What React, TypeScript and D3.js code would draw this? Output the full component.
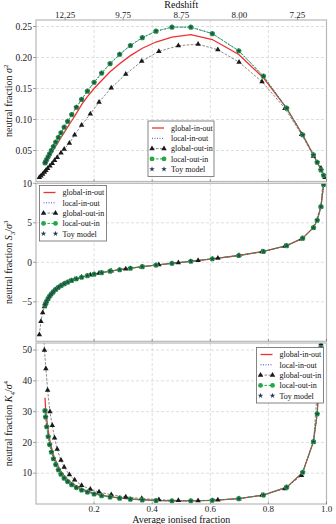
import React from 'react';
import * as d3 from 'd3';

// ---------- data ----------
const xLocal = [0.031, 0.033, 0.037, 0.042, 0.047, 0.053, 0.06, 0.068, 0.077, 0.086, 0.097, 0.109, 0.123, 0.139, 0.157, 0.177, 0.2, 0.226, 0.255, 0.288, 0.325, 0.366, 0.413, 0.468, 0.533, 0.607, 0.698, 0.783, 0.863, 0.918, 0.955, 0.968, 0.981, 0.99];
const sigmaLocal = [0.030, 0.0319, 0.0356, 0.0402, 0.0448, 0.0502, 0.0564, 0.0634, 0.0711, 0.0786, 0.0876, 0.0971, 0.1079, 0.1197, 0.1324, 0.1457, 0.16, 0.1749, 0.19, 0.2051, 0.2194, 0.232, 0.2424, 0.249, 0.2489, 0.2385, 0.2108, 0.1699, 0.1182, 0.0753, 0.043, 0.031, 0.0186, 0.0099];
const s3Local = [-5.41, -5.23, -4.91, -4.57, -4.28, -3.99, -3.71, -3.43, -3.17, -2.95, -2.72, -2.51, -2.3, -2.09, -1.89, -1.69, -1.5, -1.31, -1.12, -0.94, -0.75, -0.56, -0.35, -0.13, 0.13, 0.44, 0.86, 1.37, 2.11, 3.05, 4.39, 5.32, 7.05, 9.85];
const k4Local = [30.3, 28.3, 25.1, 21.9, 19.3, 16.9, 14.7, 12.8, 11.1, 9.7, 8.4, 7.3, 6.27, 5.35, 4.55, 3.86, 3.25, 2.72, 2.26, 1.88, 1.56, 1.31, 1.13, 1.02, 1.02, 1.19, 1.74, 2.89, 5.46, 10.28, 20.26, 29.3, 50.8, 98];

const sigmaGlobalInOut = [0.027, 0.029, 0.032, 0.036, 0.04, 0.045, 0.051, 0.057, 0.064, 0.071, 0.079, 0.088, 0.098, 0.11, 0.124, 0.137, 0.15, 0.163, 0.177, 0.19, 0.203, 0.215, 0.225, 0.233, 0.237, 0.229, 0.205, 0.167, 0.118, 0.075, 0.043, 0.031, 0.0186, 0.0099];
const k4GlobalInOut = [34.5, 31, 27.5, 24, 21, 18.5, 16, 14, 12.2, 10.6, 9.2, 7.9, 6.8, 5.8, 4.9, 4.2, 3.5, 2.9, 2.4, 2.0, 1.65, 1.38, 1.16, 1.04, 1.03, 1.2, 1.75, 2.9, 5.46, 10.28, 20.26, 29.3, 50.8, 98];

const xGlobalOutIn = [0.0115, 0.017, 0.023, 0.029, 0.034, 0.04, 0.048, 0.056, 0.064, 0.073, 0.086, 0.097, 0.115, 0.133, 0.157, 0.187, 0.217, 0.259, 0.309, 0.364, 0.423, 0.49, 0.558, 0.626, 0.699, 0.778, 0.857, 0.914, 0.955, 0.981, 0.995];
const sigmaGlobalOutIn = [0.0065, 0.009, 0.012, 0.015, 0.018, 0.021, 0.025, 0.029, 0.034, 0.039, 0.046, 0.052, 0.062, 0.075, 0.091, 0.109, 0.128, 0.151, 0.173, 0.194, 0.21, 0.219, 0.2215, 0.2125, 0.1925, 0.161, 0.118, 0.076, 0.041, 0.0215, 0.0065];
const s3GlobalOutIn = [-9.16, -7.47, -6.36, -5.61, -5.14, -4.69, -4.23, -3.86, -3.56, -3.28, -2.95, -2.72, -2.41, -2.16, -1.89, -1.6, -1.37, -1.1, -0.83, -0.57, -0.31, -0.04, 0.23, 0.52, 0.87, 1.34, 2.04, 2.95, 4.39, 7.05, 14.0];
const k4GlobalOutIn = [150, 100, 70, 50, 44, 37, 30, 25.5, 21.5, 17.8, 14.2, 12, 9.5, 7.8, 6.0, 4.8, 3.9, 3.0, 2.3, 1.8, 1.4, 1.15, 1.1, 1.3, 1.75, 2.9, 5.0, 9.3, 20.2, 52, 200];

const redshiftPos = [0.1, 0.3, 0.5, 0.7, 0.9];
const redshiftLabels = ['12.25', '9.75', '8.75', '8.00', '7.25'];
const xTicks = [0.2, 0.4, 0.6, 0.8, 1.0];
const yTicks1 = [0.05, 0.1, 0.15, 0.2, 0.25];
const yTicks2 = [-5, 0, 5, 10];
const yTicks3 = [10, 20, 30, 40, 50];

const seriesNames = ['global-in-out', 'local-in-out', 'global-out-in', 'local-out-in', 'Toy model'];

// ---------- styles ----------
const RED = '#f03030';
const BLUE = '#3a4fd0';
const BLACK = '#1a1a1a';
const GREEN = '#22a846';
const STAR = '#2b3a52';
const FONT = '"Liberation Serif", "DejaVu Serif", serif';

const L = 36, R = 326.5;
const x = d3.scaleLinear().domain([0, 1]).range([L, R]);

const starPath = d3.symbol().type(d3.symbolStar).size(10)()!;
const triPath = d3.symbol().type(d3.symbolTriangle).size(13)()!;

type Panel = {
  id: string; top: number; bottom: number; domain: [number, number]; ticks: number[];
  fmt: (v: number) => string; sig: number[]; red: number[]; black: number[];
  label: React.ReactNode; legend: { x: number; y: number; w: number };
};

function Legend({ lx, ly, w }: { lx: number; ly: number; w: number }) {
  const rowH = 10.3;
  const h = rowH * 5 + 4;
  const hx0 = lx + 4, hx1 = lx + 16, tx = lx + 23;
  return (
    <g>
      <rect x={lx} y={ly} width={w} height={h} fill="white" stroke="#666" strokeWidth={0.8} />
      {seriesNames.map((n, i) => {
        const cy = ly + 7 + i * rowH;
        let handle: React.ReactNode = null;
        if (i === 0) handle = <line x1={hx0} x2={hx1} y1={cy} y2={cy} stroke={RED} strokeWidth={1.3} />;
        if (i === 1) handle = <line x1={hx0} x2={hx1} y1={cy} y2={cy} stroke={BLUE} strokeWidth={1} strokeDasharray="1,1.5" />;
        if (i === 2) handle = (<g>
          <line x1={hx0} x2={hx1} y1={cy} y2={cy} stroke="#555" strokeWidth={0.7} strokeDasharray="2.5,1.5" />
          <path d={triPath} transform={`translate(${hx0},${cy})`} fill={BLACK} />
          <path d={triPath} transform={`translate(${hx1},${cy})`} fill={BLACK} />
        </g>);
        if (i === 3) handle = (<g>
          <line x1={hx0} x2={hx1} y1={cy} y2={cy} stroke={GREEN} strokeWidth={1} strokeDasharray="2.5,1.5" />
          <circle cx={hx0} cy={cy} r={2.4} fill={GREEN} />
          <circle cx={hx1} cy={cy} r={2.4} fill={GREEN} />
        </g>);
        if (i === 4) handle = (<g>
          <path d={starPath} transform={`translate(${hx0},${cy})`} fill={STAR} />
          <path d={starPath} transform={`translate(${hx1},${cy})`} fill={STAR} />
        </g>);
        return (<g key={n}>
          {handle}
          <text x={tx} y={cy + 2.8} fontSize={8} fontFamily={FONT} fill="#111">{n}</text>
        </g>);
      })}
    </g>
  );
}

function PanelView({ p }: { p: Panel }) {
  const y = d3.scaleLinear().domain(p.domain).range([p.bottom, p.top]);
  const line = (xs: number[], ys: number[]) =>
    d3.line<number>().x((_, i) => x(xs[i])).y((v) => y(v))(ys) || '';
  const clipId = `clip-${p.id}`;
  const midY = (p.top + p.bottom) / 2;
  return (
    <g>
      <defs>
        <clipPath id={clipId}><rect x={L} y={p.top} width={R - L} height={p.bottom - p.top} /></clipPath>
      </defs>
      {xTicks.filter((t) => t < 1).map((t) => (
        <line key={'gx' + t} x1={x(t)} x2={x(t)} y1={p.top} y2={p.bottom} stroke="#c8c8c8" strokeWidth={0.6} strokeDasharray="3,2" />
      ))}
      {p.ticks.map((t) => (
        <line key={'gy' + t} x1={L} x2={R} y1={y(t)} y2={y(t)} stroke="#c8c8c8" strokeWidth={0.6} strokeDasharray="3,2" />
      ))}
      <g clipPath={`url(#${clipId})`}>
        <path d={line(xGlobalOutIn, p.black)} fill="none" stroke="#555" strokeWidth={0.7} strokeDasharray="2.5,1.5" />
        <path d={line(xLocal, p.red)} fill="none" stroke={RED} strokeWidth={1.3} />
        <path d={line(xLocal, p.sig)} fill="none" stroke={BLUE} strokeWidth={1} strokeDasharray="1,1.5" />
        <path d={line(xLocal, p.sig)} fill="none" stroke={GREEN} strokeWidth={1} strokeDasharray="2.5,1.5" />
        {xGlobalOutIn.map((xv, i) => (
          <path key={'t' + i} d={triPath} transform={`translate(${x(xv)},${y(p.black[i])})`} fill={BLACK} />
        ))}
        {xLocal.map((xv, i) => (
          <circle key={'c' + i} cx={x(xv)} cy={y(p.sig[i])} r={2.6} fill={GREEN} />
        ))}
        {xLocal.map((xv, i) => (
          <path key={'s' + i} d={starPath} transform={`translate(${x(xv)},${y(p.sig[i])})`} fill={STAR} fillOpacity={0.85} />
        ))}
      </g>
      <rect x={L} y={p.top} width={R - L} height={p.bottom - p.top} fill="none" stroke="#b8b8b8" strokeWidth={1.2} />
      {p.ticks.map((t) => (
        <g key={'yt' + t}>
          <line x1={L - 3} x2={L} y1={y(t)} y2={y(t)} stroke="#666" strokeWidth={0.6} />
          <text x={L - 4} y={y(t) + 3.2} textAnchor="end" fontSize={9.5} fontFamily={FONT} fill="#222">{p.fmt(t)}</text>
        </g>
      ))}
      {xTicks.map((t) => (
        <line key={'xt' + t} x1={x(t)} x2={x(t)} y1={p.bottom} y2={p.bottom - 2.5} stroke="#666" strokeWidth={0.6} />
      ))}
      <text transform={`translate(12,${midY}) rotate(-90)`} textAnchor="middle" fontSize={10} fontFamily={FONT} fill="#111">{p.label}</text>
      <Legend lx={p.legend.x} ly={p.legend.y} w={p.legend.w} />
    </g>
  );
}

export default function App() {
  const panels: Panel[] = [
    {
      id: 'p1', top: 20, bottom: 181.5, domain: [0, 0.2605], ticks: yTicks1, fmt: (v) => v.toFixed(2),
      sig: sigmaLocal, red: sigmaGlobalInOut, black: sigmaGlobalOutIn,
      label: (<>neutral fraction <tspan fontStyle="italic">σ</tspan><tspan dy={-4} fontSize={7}>2</tspan></>),
      legend: { x: 148, y: 121, w: 66 },
    },
    {
      id: 'p2', top: 183.3, bottom: 341.3, domain: [-10, 10], ticks: yTicks2, fmt: (v) => (v < 0 ? '−' + Math.abs(v) : String(v)),
      sig: s3Local, red: s3Local, black: s3GlobalOutIn,
      label: (<>neutral fraction <tspan fontStyle="italic">S</tspan><tspan dy={2.5} fontSize={7}>3</tspan><tspan dy={-2.5}>/</tspan><tspan fontStyle="italic">σ</tspan><tspan dy={-4} fontSize={7}>3</tspan></>),
      legend: { x: 39.5, y: 185.5, w: 67 },
    },
    {
      id: 'p3', top: 343, bottom: 504, domain: [0, 52.3], ticks: yTicks3, fmt: (v) => String(v),
      sig: k4Local, red: k4GlobalInOut, black: k4GlobalOutIn,
      label: (<>neutral fraction <tspan fontStyle="italic">K</tspan><tspan dy={2.5} fontSize={7}>4</tspan><tspan dy={-2.5}>/</tspan><tspan fontStyle="italic">σ</tspan><tspan dy={-4} fontSize={7}>4</tspan></>),
      legend: { x: 256.5, y: 347.5, w: 67 },
    },
  ];
  return (
    <svg width={336} height={524} style={{ position: 'absolute', left: 0, top: 0, background: 'white' }}>
      <rect x={0} y={0} width={336} height={524} fill="white" />
      {panels.map((p) => <PanelView key={p.id} p={p} />)}
      {redshiftPos.map((t, i) => (
        <g key={'rz' + i}>
          <line x1={x(t)} x2={x(t)} y1={20} y2={17.5} stroke="#666" strokeWidth={0.6} />
          <text x={x(t)} y={17.5} textAnchor="middle" fontSize={9} fontFamily={FONT} fill="#222">{redshiftLabels[i]}</text>
        </g>
      ))}
      <text x={(L + R) / 2} y={8} textAnchor="middle" fontSize={10} fontFamily={FONT} fill="#111">Redshift</text>
      {xTicks.map((t) => (
        <text key={'xl' + t} x={x(t)} y={512} textAnchor="middle" fontSize={9} fontFamily={FONT} fill="#222">{t.toFixed(1)}</text>
      ))}
      <text x={(L + R) / 2} y={523} textAnchor="middle" fontSize={10} fontFamily={FONT} fill="#111">Average ionised fraction</text>
    </svg>
  );
}
